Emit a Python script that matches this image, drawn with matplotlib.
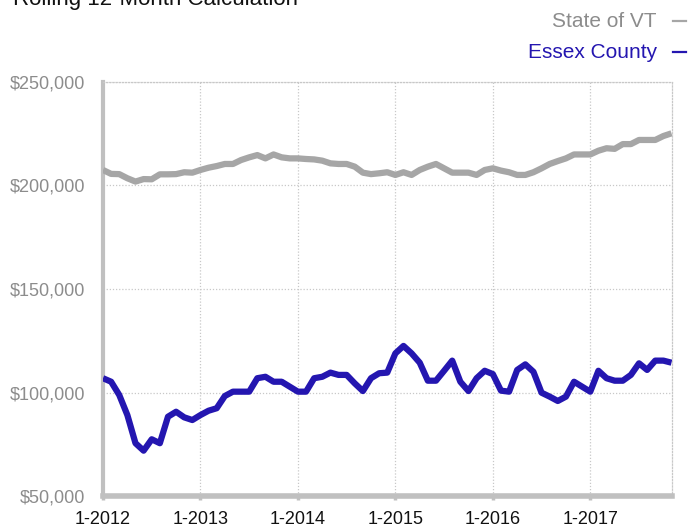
import matplotlib
matplotlib.use("Agg")
import matplotlib.pyplot as plt
from matplotlib.lines import Line2D

plt.rcParams['font.family'] = ['Liberation Sans', 'DejaVu Sans']

# Monthly values, Jan 2012 .. Nov 2017
state_vt = [207.5, 205.6, 205.5, 203.5, 201.9, 203.1, 203.0, 205.4, 205.4, 205.5, 206.4, 206.2,
            207.5, 208.6, 209.4, 210.4, 210.4, 212.3, 213.6, 214.7, 213.1, 215.0, 213.6, 213.1,
            213.1, 212.8, 212.6, 212.0, 210.7, 210.4, 210.4, 209.1, 206.2, 205.5, 205.9, 206.4,
            205.1, 206.4, 205.1, 207.5, 209.1, 210.4, 208.3, 206.2, 206.2, 206.2, 205.1, 207.5,
            208.3, 207.2, 206.4, 205.1, 205.1, 206.4, 208.3, 210.4, 211.8, 213.1, 215.0, 215.0,
            215.0, 216.8, 218.0, 217.7, 220.0, 220.0, 222.0, 222.0, 222.0, 223.9, 225.2]
essex = [106.9, 105.2, 98.8, 89.1, 75.5, 71.9, 77.4, 75.5, 88.3, 90.7, 88.0, 86.7,
         89.1, 91.2, 92.4, 98.3, 100.4, 100.4, 100.4, 106.9, 107.6, 105.2, 105.2, 102.8,
         100.4, 100.4, 106.9, 107.6, 109.6, 108.5, 108.5, 104.4, 100.7, 106.9, 109.3, 109.6,
         118.9, 122.5, 118.9, 114.4, 105.7, 105.7, 110.5, 115.4, 105.2, 100.7, 106.9, 110.5,
         108.9, 100.9, 100.4, 110.9, 113.6, 110.0, 99.9, 98.0, 95.9, 98.0, 105.2, 102.8,
         100.4, 110.5, 106.9, 105.7, 105.7, 108.5, 114.1, 110.9, 115.4, 115.4, 114.4]
tick_labels = ['1-2012', '1-2013', '1-2014', '1-2015', '1-2016', '1-2017']
y_ticks = [50000, 100000, 150000, 200000, 250000]

W, H = 689, 527
fig = plt.figure(figsize=(W / 100, H / 100), dpi=100)
ax = fig.add_axes([103 / W, 1 - 496 / H, (671.5 - 103) / W, (496 - 82) / H])

months = list(range(len(state_vt)))
ax.plot(months, [v * 1000 for v in state_vt], color='#a6a6a6', lw=4.5,
        solid_joinstyle='round', solid_capstyle='butt', zorder=3)
ax.plot(months, [v * 1000 for v in essex], color='#2416b0', lw=4.5,
        solid_joinstyle='round', solid_capstyle='butt', zorder=4)

ax.set_xlim(0, len(state_vt) - 1)
ax.set_ylim(50000, 250000)
ax.set_xticks([12 * i for i in range(len(tick_labels))])
ax.set_xticklabels(tick_labels)
ax.set_yticks(y_ticks)
ax.set_yticklabels(['${:,.0f}'.format(v) for v in y_ticks])

ax.grid(True, color='#c8c8c8', linestyle=(0, (1, 1.5)), linewidth=0.9, zorder=1)
for s in ['top', 'right']:
    ax.spines[s].set_color('#c8c8c8')
    ax.spines[s].set_linestyle((0, (1, 1.5)))
    ax.spines[s].set_linewidth(0.9)
ax.spines['left'].set_color('#c0c0c0')
ax.spines['left'].set_linewidth(3)
ax.spines['bottom'].set_color('#c0c0c0')
ax.spines['bottom'].set_linewidth(4)
ax.spines['bottom'].set_zorder(5)

ax.tick_params(axis='y', length=0, pad=13, labelsize=13, labelcolor='#8c8c8c')
ax.tick_params(axis='x', length=3, width=2.5, color='#c0c0c0', pad=8, labelsize=13,
               labelcolor='#111111', direction='out')

# Title (partially cut off at top, as in the source)
fig.text(12.7 / W, 1 - 5 / H, 'Rolling 12-Month Calculation', fontsize=16,
         color='#111111', ha='left', va='baseline')

# Legend
fig.text(657 / W, 1 - 26.7 / H, 'State of VT', fontsize=15, color='#8c8c8c',
         ha='right', va='baseline')
fig.text(657 / W, 1 - 57.5 / H, 'Essex County', fontsize=15, color='#2416b0',
         ha='right', va='baseline')
fig.add_artist(Line2D([673 / W, 686 / W], [1 - 20.7 / H, 1 - 20.7 / H],
                      color='#a6a6a6', lw=1.6, transform=fig.transFigure))
fig.add_artist(Line2D([673 / W, 686 / W], [1 - 51.7 / H, 1 - 51.7 / H],
                      color='#2416b0', lw=1.6, transform=fig.transFigure))

fig.savefig('out.png', dpi=100)
